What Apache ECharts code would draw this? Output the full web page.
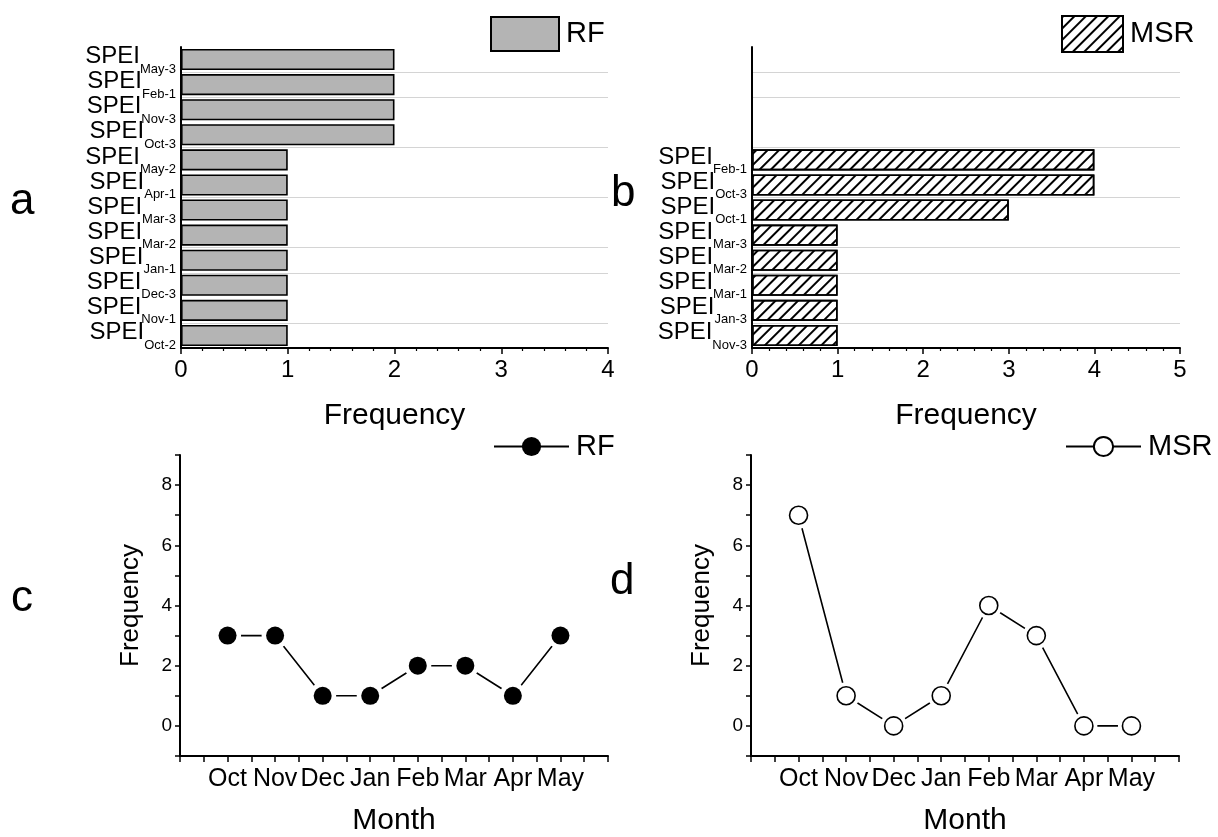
<!DOCTYPE html>
<html>
<head>
<meta charset="utf-8">
<title>SPEI frequency</title>
<script src="https://cdn.jsdelivr.net/npm/echarts@6/dist/echarts.min.js"></script>
<style>
    html, body { margin: 0; padding: 0; background: #fff; }
    #chart { width: 1218px; height: 837px; }
</style>
</head>
<body>
<div id="chart"></div>
<script>
/**
 * Panel a / b: SPEI terms picked by each model, listed top to bottom
 */
const rfTerms = ['May-3', 'Feb-1', 'Nov-3', 'Oct-3', 'May-2', 'Apr-1', 'Mar-3', 'Mar-2', 'Jan-1', 'Dec-3', 'Nov-1', 'Oct-2'];
const rfCounts = [2, 2, 2, 2, 1, 1, 1, 1, 1, 1, 1, 1];
const msrTerms = ['', '', '', '', 'Feb-1', 'Oct-3', 'Oct-1', 'Mar-3', 'Mar-2', 'Mar-1', 'Jan-3', 'Nov-3'];
const msrCounts = [null, null, null, null, 4, 4, 3, 1, 1, 1, 1, 1];

/**
 * Panel c / d: frequency per month
 */
const months = ['Oct', 'Nov', 'Dec', 'Jan', 'Feb', 'Mar', 'Apr', 'May'];
const rfMonthly = [3, 3, 1, 1, 2, 2, 1, 3];
const msrMonthly = [7, 1, 0, 1, 4, 3, 0, 0];

const FONT = '"Liberation Sans", Arial, Helvetica, sans-serif';
const INK = '#000';

// category boundaries that show a grey grid line in the original
const gridRows = [1, 2, 4, 6, 8, 9, 11];

const axisLine = { lineStyle: { color: INK, width: 2 } };

/**
 * SPEI label with the term as subscript
 */
function speiLabel(term) {
    return term ? `{a|SPEI}{b|${term}}` : '';
}

function termAxis(gridIndex, terms) {
    return {
        type: 'category',
        gridIndex,
        data: terms,
        inverse: true,
        axisLine,
        axisTick: { length: 4, lineStyle: { color: INK, width: 1.5 } },
        splitLine: {
            show: true,
            interval: (index) => gridRows.includes(index),
            lineStyle: { color: '#d4d4d4', width: 1 },
        },
        axisLabel: {
            margin: 5,
            interval: 0,
            showMinLabel: true,
            showMaxLabel: true,
            formatter: speiLabel,
            rich: {
                // tokens sit on the line bottom; the padding lifts SPEI above its subscript
                a: { fontFamily: FONT, fontSize: 24, lineHeight: 32, color: INK, verticalAlign: 'bottom', padding: [0, 0, 7, 0] },
                b: { fontFamily: FONT, fontSize: 13, lineHeight: 14, color: INK, verticalAlign: 'bottom' },
            },
        },
    };
}

function countAxis(gridIndex, max) {
    return {
        type: 'value',
        gridIndex,
        min: 0,
        max,
        interval: 1,
        name: 'Frequency',
        nameLocation: 'middle',
        nameGap: 53,
        nameTextStyle: { fontFamily: FONT, fontSize: 30, color: INK },
        axisLine: { show: true, ...axisLine },
        axisTick: { show: true, length: 6, lineStyle: { color: INK, width: 1.5 } },
        minorTick: { show: true, splitNumber: 5, length: 3, lineStyle: { color: INK, width: 1.2 } },
        splitLine: { show: false },
        axisLabel: { margin: 10, fontFamily: FONT, fontSize: 24, color: INK },
    };
}

function monthAxis(gridIndex) {
    return {
        type: 'value',
        gridIndex,
        min: 0,
        max: 9,
        interval: 0.5,
        name: 'Month',
        nameLocation: 'middle',
        nameGap: 50,
        nameTextStyle: { fontFamily: FONT, fontSize: 30, color: INK },
        axisLine: { show: true, onZero: false, ...axisLine },
        axisTick: { show: true, length: 6, lineStyle: { color: INK, width: 1.5 } },
        splitLine: { show: false },
        axisLabel: {
            margin: 11,
            fontFamily: FONT,
            fontSize: 25,
            color: INK,
            formatter: (v) => (Number.isInteger(v) && v >= 1 && v <= months.length ? months[v - 1] : ''),
        },
    };
}

function freqAxis(gridIndex) {
    return {
        type: 'value',
        gridIndex,
        min: -1,
        max: 9,
        interval: 1,
        name: 'Frequency',
        nameLocation: 'middle',
        nameGap: 36,
        nameTextStyle: { fontFamily: FONT, fontSize: 26, color: INK },
        axisLine: { show: true, onZero: false, ...axisLine },
        axisTick: { show: true, length: 5, lineStyle: { color: INK, width: 1.5 } },
        splitLine: { show: false },
        axisLabel: {
            margin: 8,
            fontFamily: FONT,
            fontSize: 19,
            color: INK,
            formatter: (v) => (v >= 0 && v <= 8 && v % 2 === 0 ? String(v) : ''),
        },
    };
}

/**
 * Monthly line: the line itself, a white halo to cut the line short
 * of each marker, then the marker on top
 */
function monthSeries(name, values, axisIndex, filled) {
    const points = values.map((v, i) => [i + 1, v]);
    const marker = filled
        ? { color: INK, borderWidth: 0, opacity: 1 }
        : { color: '#fff', borderColor: INK, borderWidth: 1.6, opacity: 1 };
    return [
        {
            name,
            type: 'line',
            xAxisIndex: axisIndex,
            yAxisIndex: axisIndex,
            data: points,
            symbol: 'circle',
            symbolSize: 18,
            itemStyle: marker,
            lineStyle: { color: INK, width: 1.6 },
            z: 2,
            silent: true,
        },
        {
            name: name + ' halo',
            type: 'scatter',
            xAxisIndex: axisIndex,
            yAxisIndex: axisIndex,
            data: points,
            symbolSize: 27,
            itemStyle: { color: '#fff', opacity: 1 },
            z: 3,
            silent: true,
        },
        {
            name: name + ' marker',
            type: 'scatter',
            xAxisIndex: axisIndex,
            yAxisIndex: axisIndex,
            data: points,
            symbolSize: 18,
            itemStyle: marker,
            z: 4,
            silent: true,
        },
    ];
}

function legendBox(left, top, names, extra) {
    return {
        left,
        top,
        data: names,
        selectedMode: false,
        padding: 0,
        formatter: (n) => n.split(' ')[0],
        textStyle: { fontFamily: FONT, fontSize: 29, color: INK, padding: [0, 0, 0, 2] },
        ...extra,
    };
}

function panelLetter(text, x, y) {
    return {
        type: 'text',
        left: x,
        top: y,
        style: { text, font: `44px ${FONT}`, fill: INK },
    };
}

const hatch = {
    symbol: 'rect',
    symbolSize: 1,
    color: INK,
    dashArrayX: [1, 0],
    dashArrayY: [1.4, 5.2],
    rotation: -Math.PI / 4,
};

const option = {
    animation: false,
    backgroundColor: '#fff',
    grid: [
        { left: 181, top: 47, width: 427, height: 301 },
        { left: 752, top: 47, width: 428, height: 301 },
        { left: 180, top: 455, width: 428, height: 302 },
        { left: 751, top: 455, width: 428, height: 302 },
    ],
    xAxis: [countAxis(0, 4), countAxis(1, 5), monthAxis(2), monthAxis(3)],
    yAxis: [termAxis(0, rfTerms), termAxis(1, msrTerms), freqAxis(2), freqAxis(3)],
    legend: [
        legendBox(490, 16, ['RF bars'], { icon: 'rect', itemWidth: 68, itemHeight: 34 }),
        legendBox(1061, 15, ['MSR bars'], { icon: 'rect', itemWidth: 61, itemHeight: 36 }),
        legendBox(493, 432, ['RF months'], { itemWidth: 75, itemHeight: 24, itemStyle: { borderWidth: 0 } }),
        legendBox(1065, 432, ['MSR months'], { itemWidth: 75, itemHeight: 24 }),
    ],
    graphic: [
        panelLetter('a', 10, 180),
        panelLetter('b', 611, 172),
        panelLetter('c', 11, 577),
        panelLetter('d', 610, 560),
    ],
    series: [
        {
            name: 'RF bars',
            type: 'bar',
            xAxisIndex: 0,
            yAxisIndex: 0,
            data: rfCounts,
            barCategoryGap: '16%',
            itemStyle: { color: '#b4b4b4', borderColor: INK, borderWidth: 1.6 },
            silent: true,
        },
        {
            name: 'MSR bars',
            type: 'bar',
            xAxisIndex: 1,
            yAxisIndex: 1,
            data: msrCounts,
            barCategoryGap: '16%',
            itemStyle: { color: '#fff', borderColor: INK, borderWidth: 1.6, decal: hatch },
            silent: true,
        },
        ...monthSeries('RF months', rfMonthly, 2, true),
        ...monthSeries('MSR months', msrMonthly, 3, false),
    ],
};

const chart = echarts.init(document.getElementById('chart'), null, { renderer: 'canvas' });
chart.setOption(option);
</script>
</body>
</html>
